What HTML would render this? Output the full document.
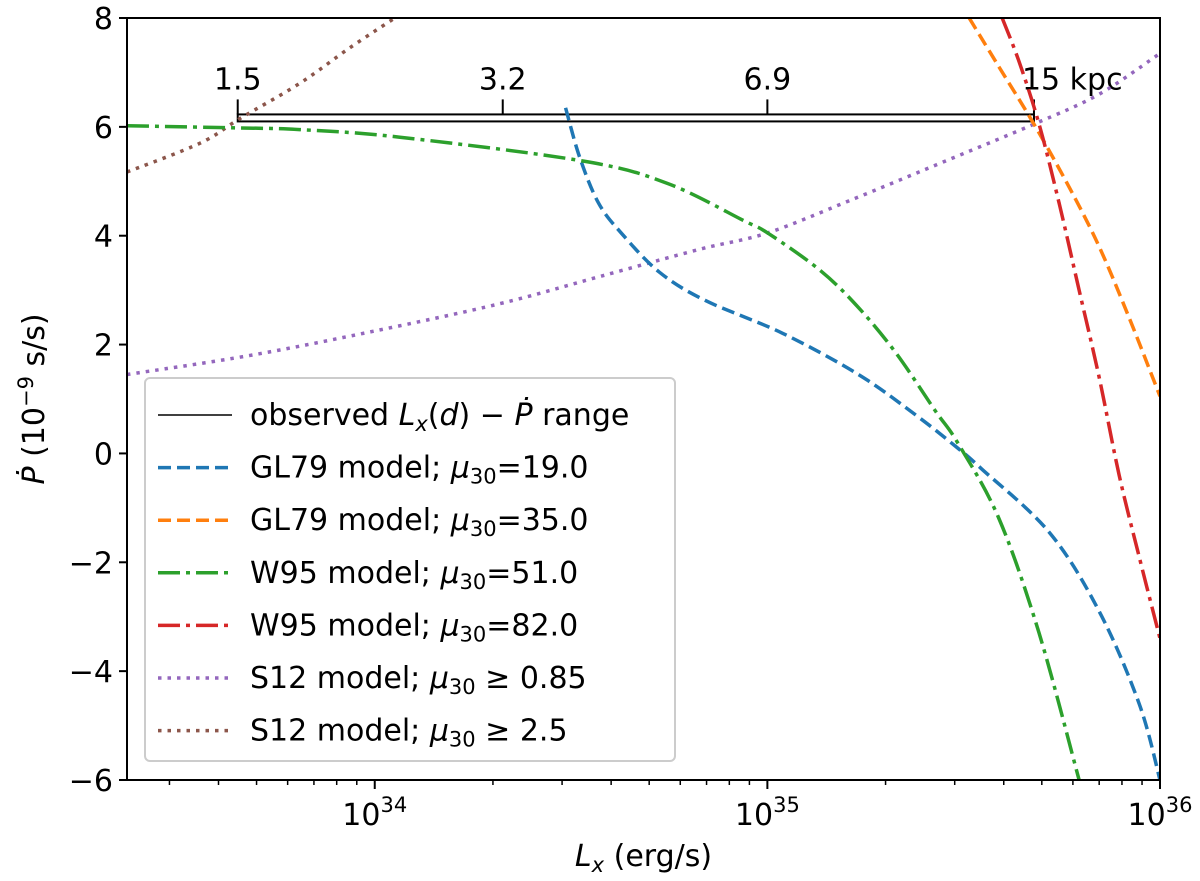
<!DOCTYPE html>
<html><head><meta charset="utf-8"><style>
body{margin:0;background:#fff}
svg{display:block;font-family:"DejaVu Sans","Liberation Sans",sans-serif}
</style></head><body>
<svg id="chart" width="1200" height="881">
<defs><clipPath id="clip"><rect x="127" y="18" width="1033" height="762"/></clipPath></defs>
<g id="plot" clip-path="url(#clip)"></g>
<g id="axes"></g>
</svg>
<script>
const xLog=[33.369,36];
const yRange=[-6,8];
const yTicks=[8,6,4,2,0,-2,-4,-6];
const xDecades=[34,35,36];
const w95a_x=[33.369,33.656,33.809,34.064,34.532,34.746,34.939,35.003,35.135,35.232,35.328,35.427,35.486,35.590,35.692,35.794];
const w95a_y=[6.02,5.98,5.95,5.81,5.37,4.96,4.28,4.04,3.36,2.68,1.84,0.79,0.18,-1.2,-3.3,-6];
const gl79a_x=[34.486,34.522,34.570,34.629,34.725,34.842,35.038,35.232,35.379,35.481,35.545,35.718,35.845,35.947,36];
const gl79a_y=[6.35,5.44,4.6,4.04,3.33,2.81,2.21,1.45,0.7,0.12,-0.28,-1.45,-2.9,-4.6,-6];
const gl79b_x=[35.514,35.590,35.679,35.768,35.845,35.921,36];
const gl79b_y=[8.0,7.1,6.05,4.9,3.8,2.5,1.05];
const w95b_x=[35.598,35.641,35.692,35.743,35.794,35.845,35.896,35.947,36];
const w95b_y=[8,7.2,6.05,4.6,3.0,1.4,-0.4,-1.9,-3.4];
const s12a_x=[33.369,33.682,34,34.318,34.573,34.827,35,35.211,35.463,35.679,35.845,36];
const s12a_y=[1.45,1.8,2.25,2.75,3.25,3.75,4.05,4.65,5.4,6.05,6.6,7.35];
const s12b_x=[33.369,33.555,33.656,33.809,33.936,34.051];
const s12b_y=[5.17,5.7,6.15,6.8,7.45,8.0];
const rangeLog=[33.651,34.326,35.0,35.679];
const rangeLabels=["1.5","3.2","6.9","15 kpc"];
const rangeY=6.1;

const NS="http://www.w3.org/2000/svg";
const X0=127,X1=1160,Y0=18,Y1=780,FS=30,FSS=21;
const sx=v=>X0+(v-xLog[0])/(xLog[1]-xLog[0])*(X1-X0);
const sy=v=>Y1-(v-yRange[0])/(yRange[1]-yRange[0])*(Y1-Y0);
function mk(tag,attrs,parent){const e=document.createElementNS(NS,tag);for(const k in attrs)e.setAttribute(k,attrs[k]);parent.appendChild(e);return e;}
const plot=document.getElementById('plot'),axes=document.getElementById('axes');
function smooth(xs,ys){const p=xs.map((x,i)=>[sx(x),sy(ys[i])]);let d=`M${p[0][0]},${p[0][1]}`;
for(let i=0;i<p.length-1;i++){const p0=p[i-1]||p[i],p1=p[i],p2=p[i+1],p3=p[i+2]||p2;
d+=` C${p1[0]+(p2[0]-p0[0])/6},${p1[1]+(p2[1]-p0[1])/6} ${p2[0]-(p3[0]-p1[0])/6},${p2[1]-(p3[1]-p1[1])/6} ${p2[0]},${p2[1]}`;}return d;}
const series=[
 {name:'s12-085-curve',x:s12a_x,y:s12a_y,c:'#9467bd',d:'3.5,6'},
 {name:'s12-25-curve',x:s12b_x,y:s12b_y,c:'#8c564b',d:'3.5,6'},
 {name:'gl79-19-curve',x:gl79a_x,y:gl79a_y,c:'#1f77b4',d:'13,6'},
 {name:'gl79-35-curve',x:gl79b_x,y:gl79b_y,c:'#ff7f0e',d:'13,6'},
 {name:'w95-51-curve',x:w95a_x,y:w95a_y,c:'#2ca02c',d:'22,6,4,6'},
 {name:'w95-82-curve',x:w95b_x,y:w95b_y,c:'#d62728',d:'22,6,4,6'}];
const rg=mk('g',{},plot);


const ry=sy(rangeY);
mk('rect',{x:sx(rangeLog[0]),y:ry-7,width:sx(rangeLog[3])-sx(rangeLog[0]),height:7,fill:'none',stroke:'#000','stroke-width':2},rg);
rangeLog.forEach((v,i)=>{mk('line',{x1:sx(v),x2:sx(v),y1:ry-7,y2:ry-22,stroke:'#000','stroke-width':2},rg);
 const t=mk('text',{x:i==3?sx(v)-12:sx(v),y:ry-32,'font-size':FS,'text-anchor':i==3?'start':'middle'},rg);
 t.textContent=rangeLabels[i];});
series.forEach(s=>{const p=mk('path',{d:smooth(s.x,s.y),fill:'none',stroke:s.c,'stroke-width':3.5,'stroke-dasharray':s.d},plot);
 
 });
mk('rect',{x:X0,y:Y0,width:X1-X0,height:Y1-Y0,fill:'none',stroke:'#000','stroke-width':2},axes);
yTicks.forEach(v=>{mk('line',{x1:X0-8,x2:X0,y1:sy(v),y2:sy(v),stroke:'#000','stroke-width':2},axes);
 const t=mk('text',{x:X0-14,y:sy(v)+11,'font-size':FS,'text-anchor':'end'},axes);
 
 
 t.textContent=(v<0?'\u2212'+(-v):v);});
for(let d=33;d<36;d++)for(let m=2;m<10;m++){const v=d+Math.log10(m);if(v<xLog[0])continue;
 mk('line',{x1:sx(v),x2:sx(v),y1:Y1,y2:Y1+5,stroke:'#000','stroke-width':1.5},axes);}
xDecades.forEach(v=>{mk('line',{x1:sx(v),x2:sx(v),y1:Y1,y2:Y1+9,stroke:'#000','stroke-width':2},axes);
 const t=mk('text',{x:sx(v),y:Y1+45,'font-size':FS,'text-anchor':'middle'},axes);
 
 
 t.innerHTML='10<tspan dy="-13" font-size="'+FSS+'">'+v+'</tspan>';});
const xt=mk('text',{x:(X0+X1)/2,y:866,'font-size':FS,'text-anchor':'middle'},axes);


xt.innerHTML='<tspan font-style="italic">L</tspan><tspan font-style="italic" font-size="'+FSS+'" dy="6">x</tspan><tspan dy="-6"> (erg/s)</tspan>';
const yt=mk('text',{x:0,y:0,'font-size':FS,'text-anchor':'middle',transform:`translate(44,${(Y0+Y1)/2}) rotate(-90)`},axes);


yt.innerHTML='<tspan font-style="italic">Ṗ</tspan> (10<tspan dy="-11" font-size="'+FSS+'">−9</tspan><tspan dy="11"> s/s)</tspan>';
const lg=mk('g',{},axes);


mk('rect',{x:145,y:378,width:530,height:383,rx:5,fill:'#fff','fill-opacity':0.85,stroke:'#ccc','stroke-width':2},lg);
const sub='<tspan font-style="italic">μ</tspan><tspan font-size="'+FSS+'" dy="6">30</tspan>';
const legendLabels=['observed <tspan font-style="italic">L</tspan><tspan font-style="italic" font-size="'+FSS+'" dy="6">x</tspan><tspan dy="-6">(</tspan><tspan font-style="italic">d</tspan>) − <tspan font-style="italic">Ṗ</tspan> range',
'GL79 model; '+sub+'<tspan dy="-6">=19.0</tspan>',
'GL79 model; '+sub+'<tspan dy="-6">=35.0</tspan>',
'W95 model; '+sub+'<tspan dy="-6">=51.0</tspan>',
'W95 model; '+sub+'<tspan dy="-6">=82.0</tspan>',
'S12 model; '+sub+'<tspan dy="-6"> ≥ 0.85</tspan>',
'S12 model; '+sub+'<tspan dy="-6"> ≥ 2.5</tspan>'];
const legendStyles=[['#000','none',1.5],['#1f77b4','13,6',3.5],['#ff7f0e','13,6',3.5],['#2ca02c','22,6,4,6',3.5],['#d62728','22,6,4,6',3.5],['#9467bd','3.5,6',3.5],['#8c564b','3.5,6',3.5]];
legendLabels.forEach((l,i)=>{const y=415+i*52.6;const st=legendStyles[i];
 const e=mk('g',{},lg);
 
 
 mk('line',{x1:158,x2:232,y1:y,y2:y,stroke:st[0],'stroke-width':st[2],'stroke-dasharray':st[1]},e);
 const t=mk('text',{x:250,y:y+10,'font-size':FS},e);t.innerHTML=l;});
</script>
</body></html>
